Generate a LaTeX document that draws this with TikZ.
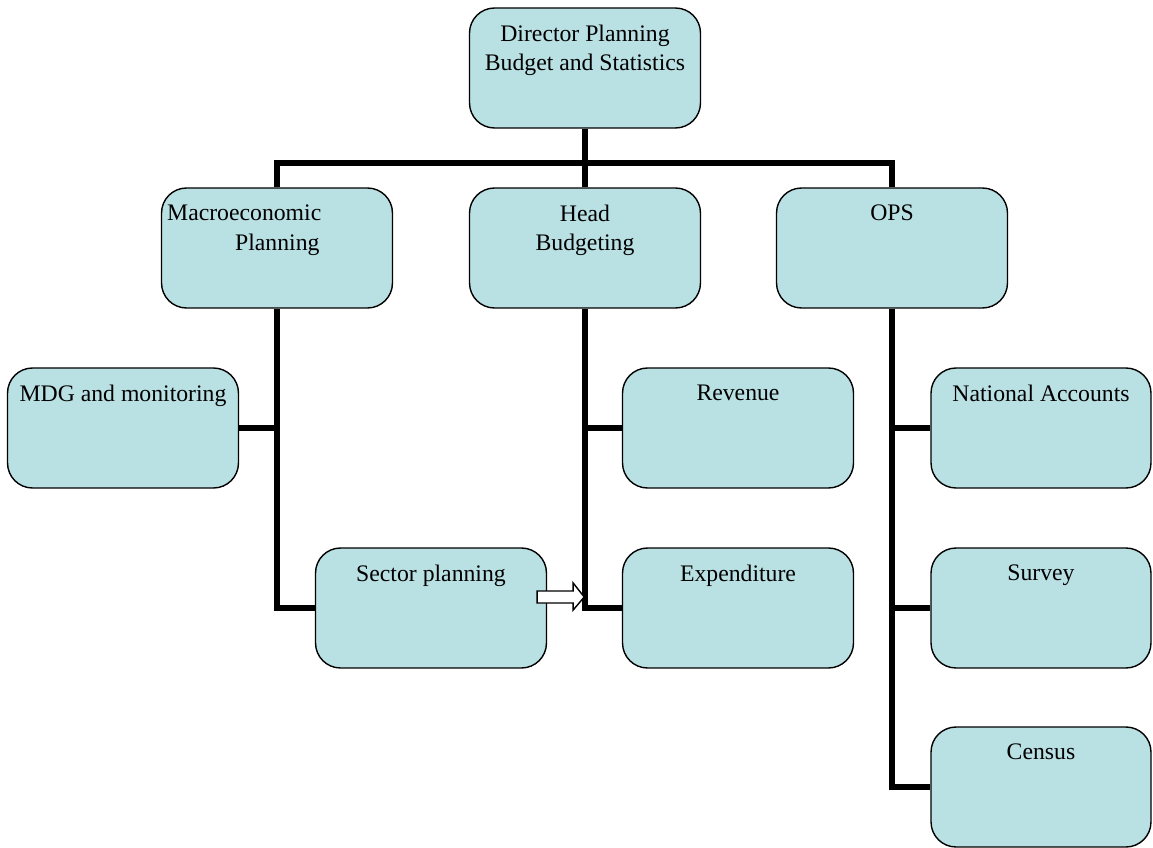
\documentclass[tikz,border=0pt]{standalone}
\usepackage{fontspec}
\setmainfont{Liberation Serif}
\usetikzlibrary{positioning}

\definecolor{boxfill}{HTML}{B9E0E3}

\tikzset{
    unit/.style={draw, thick, rounded corners=0.5cm, fill=boxfill, minimum width=4.62cm, minimum height=2.4cm, inner sep=0pt},
    side/.style={unit, minimum width=4.4cm},
    txt/.style={anchor=north, inner sep=0pt, align=center, font=\fontsize{13.5}{17}\selectfont},
    link/.style={line width=3.4pt}
}

\begin{document}
\begin{tikzpicture}[x=0.02cm, y=-0.02cm]
    \useasboundingbox (0,0) rectangle (1153,848);

    % Director
    \node[unit] (dir) at (585,68) {};
    \node[txt] (dirt) at ([yshift=-0.34cm]dir.north) {Director Planning\\Budget and Statistics};

    % Second level
    \node[unit] (macro) at (277,248) {};
    \node[txt, anchor=north west, align=left] (macrot) at ([xshift=0.12cm, yshift=-0.34cm]macro.north west) {Macroeconomic\\\hspace*{1.36cm}Planning};
    \node[unit] (head) at (585,248) {};
    \node[txt] (headt) at ([yshift=-0.34cm]head.north) {Head\\Budgeting};
    \node[unit] (ops) at (892,248) {};
    \node[txt] (opst) at ([yshift=-0.34cm]ops.north) {OPS};

    % Third level
    \node[unit] (mdg) at (123,428) {};
    \node[txt] (mdgt) at ([yshift=-0.34cm]mdg.north) {MDG and monitoring};
    \node[unit] (sector) at (431,608) {};
    \node[txt] (sectort) at ([yshift=-0.34cm]sector.north) {Sector planning};
    \node[unit] (rev) at (738,428) {};
    \node[txt] (revt) at ([yshift=-0.34cm]rev.north) {Revenue};
    \node[unit] (exp) at (738,608) {};
    \node[txt] (expt) at ([yshift=-0.34cm]exp.north) {Expenditure};
    \node[side] (na) at (1041,428) {};
    \node[txt] (nat) at ([yshift=-0.34cm]na.north) {National Accounts};
    \node[side] (survey) at (1041,608) {};
    \node[txt] (surveyt) at ([yshift=-0.34cm]survey.north) {Survey};
    \node[side] (census) at (1041,787) {};
    \node[txt] (censust) at ([yshift=-0.34cm]census.north) {Census};

    % Lines
    \coordinate (bus) at (585,163);
    \draw[link] (dir.south) -- (head.north);
    \draw[link] (macro.north) |- (bus) -| (ops.north);
    \draw[link] (macro.south) |- (sector.west);
    \draw[link] (mdg.east) -- (mdg.east -| macro.south);
    \draw[link] (head.south) |- (exp.west);
    \draw[link] (rev.west) -- (rev.west -| head.south);
    \draw[link] (ops.south) |- (census.west);
    \draw[link] (na.west) -- (na.west -| ops.south);
    \draw[link] (survey.west) -- (survey.west -| ops.south);

    % Block arrow
    \draw[thick, fill=white] ([xshift=-0.2cm, yshift=0.34cm]sector.east) -- ++(36,0) -- ++(0,-8) -- ++(11,14) -- ++(-11,13) -- ++(0,-7) -- ++(-36,0) -- cycle;
\end{tikzpicture}
\end{document}
